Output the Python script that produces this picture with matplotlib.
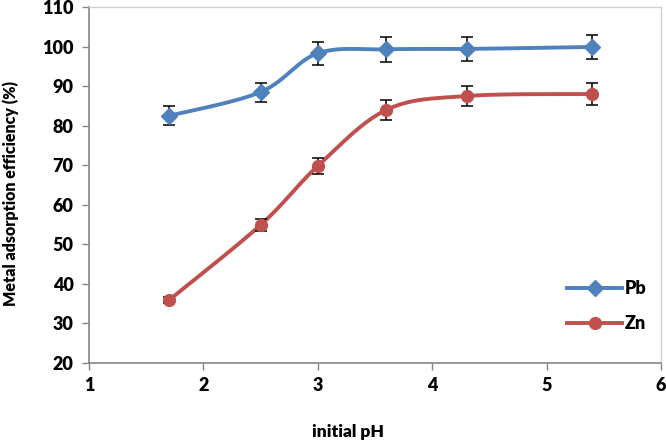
import numpy as np
import matplotlib
matplotlib.use("Agg")
import matplotlib.pyplot as plt
from matplotlib.lines import Line2D

ph = [1.7, 2.5, 3.0, 3.6, 4.3, 5.4]
pb = [82.5, 88.5, 98.3, 99.3, 99.4, 99.9]
pb_err = [2.4, 2.4, 2.9, 3.1, 3.1, 3.1]
zn = [35.9, 54.9, 69.8, 84.0, 87.5, 88.0]
zn_err = [0.8, 1.5, 2.1, 2.5, 2.6, 2.7]
xticks = [1, 2, 3, 4, 5, 6]
yticks = [20, 30, 40, 50, 60, 70, 80, 90, 100, 110]

BLUE = "#4F81BD"
RED = "#C0504D"
FONT = "Lato"
W = "heavy"


def smooth(x, y, n=30):
    """Catmull-Rom style smoothing (like Excel smoothed lines) for drawing."""
    x = np.asarray(x, float)
    y = np.asarray(y, float)
    P = np.column_stack([x, y])
    P = np.vstack([P[0], P, P[-1]])
    out = []
    for i in range(1, len(P) - 2):
        p0, p1, p2, p3 = P[i - 1], P[i], P[i + 1], P[i + 2]
        c1 = p1 + (p2 - p0) / 6.0
        c2 = p2 - (p3 - p1) / 6.0
        t = np.linspace(0, 1, n)[:, None]
        seg = ((1 - t) ** 3) * p1 + 3 * ((1 - t) ** 2) * t * c1 + 3 * (1 - t) * t ** 2 * c2 + t ** 3 * p2
        out.append(seg if i == 1 else seg[1:])
    s = np.vstack(out)
    return s[:, 0], s[:, 1]


fig = plt.figure(figsize=(6.66, 4.42), dpi=100)
ax = fig.add_axes([89 / 666, 1 - 363 / 442, (661 - 89) / 666, (363 - 7) / 442])

for xs, ys, err, col, mk, ms in [(ph, pb, pb_err, BLUE, "D", 8), (ph, zn, zn_err, RED, "o", 8.5)]:
    sx, sy = smooth(xs, ys)
    ax.plot(sx, sy, color=col, lw=2.8, solid_capstyle="round", zorder=2)
    ax.errorbar(xs, ys, yerr=err, fmt="none", ecolor="black", elinewidth=1.1,
                capsize=4, capthick=1.1, zorder=3)
    ax.plot(xs, ys, linestyle="none", marker=mk, markersize=ms, color=col, zorder=4)

ax.set_xlim(1, 6)
ax.set_ylim(20, 110)
ax.set_xticks(xticks)
ax.set_yticks(yticks)
ax.set_xticklabels([str(v) for v in xticks], fontfamily=FONT, fontweight=W, fontsize=13)
ax.set_yticklabels([str(v) for v in yticks], fontfamily=FONT, fontweight=W, fontsize=13)
ax.tick_params(axis="both", direction="out", length=5, width=1, color="#868686")
ax.tick_params(axis="y", pad=6)
ax.tick_params(axis="x", pad=5)

for s in ["left", "bottom"]:
    ax.spines[s].set_color("#868686")
    ax.spines[s].set_linewidth(1.2)
for s in ["top", "right"]:
    ax.spines[s].set_color("#D0D0D0")
    ax.spines[s].set_linewidth(1)

fig.text(348 / 666, 1 - 432 / 442, "initial pH", ha="center", va="center",
         fontfamily=FONT, fontweight=W, fontsize=12.5)
fig.text(11 / 666, 1 - 193 / 442, "Metal adsorption efficiency (%)", ha="center", va="center",
         rotation=90, fontfamily=FONT, fontweight=W, fontsize=11.5)

handles = [Line2D([0], [0], color=BLUE, lw=2.8, marker="D", markersize=8),
           Line2D([0], [0], color=RED, lw=2.8, marker="o", markersize=8.5)]
leg = ax.legend(handles, ["Pb", "Zn"], loc="center left", bbox_to_anchor=(0.808, 0.16),
                frameon=False, handlelength=3.0, handletextpad=0.2, labelspacing=1.0,
                prop={"family": FONT, "weight": W, "size": 13})

fig.savefig("out.png", dpi=100)
